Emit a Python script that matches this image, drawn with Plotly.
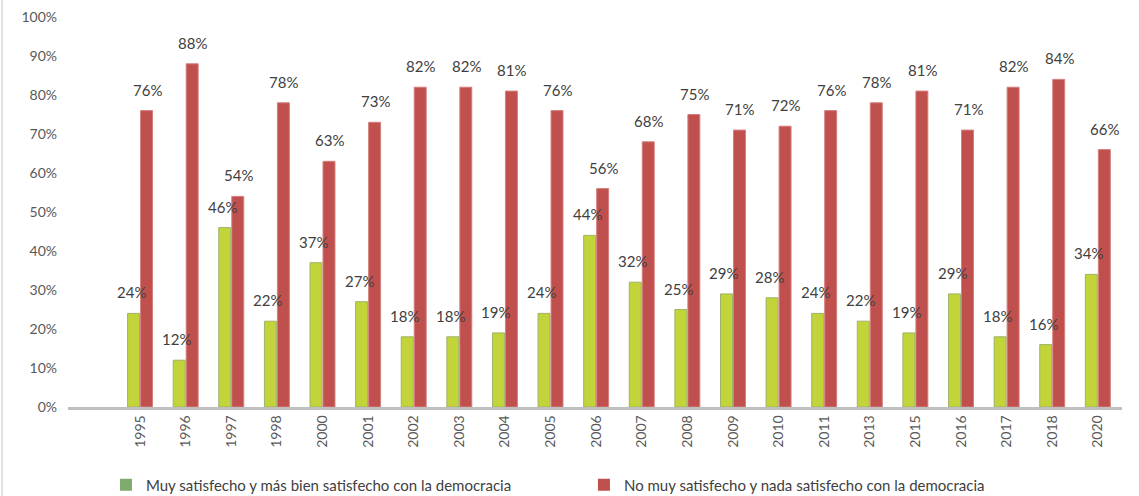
import plotly.graph_objects as go

years = ["1995", "1996", "1997", "1998", "2000", "2001", "2002", "2003", "2004", "2005", "2006",
         "2007", "2008", "2009", "2010", "2011", "2013", "2015", "2016", "2017", "2018", "2020"]
satisfechos = [24, 12, 46, 22, 37, 27, 18, 18, 19, 24, 44, 32, 25, 29, 28, 24, 22, 19, 29, 18, 16, 34]
no_satisfechos = [76, 88, 54, 78, 63, 73, 82, 82, 81, 76, 56, 68, 75, 71, 72, 76, 78, 81, 71, 82, 84, 66]

nom_verde = "Muy satisfecho y más bien satisfecho con la democracia"
nom_rojo = "No muy satisfecho y nada satisfecho con la democracia"

police = "Lato, 'Liberation Sans', sans-serif"
gris_txt = "#404040"

fig = go.Figure()
fig.add_trace(go.Bar(x=years, y=[v / 100 for v in satisfechos],
                     marker=dict(color="#C2D43A", line=dict(color="#9DB36A", width=1)),
                     showlegend=False, name=nom_verde))
fig.add_trace(go.Bar(x=years, y=[v / 100 for v in no_satisfechos],
                     marker=dict(color="#C0504D", line=dict(color="#D47F7C", width=1)),
                     showlegend=False, name=nom_rojo))

# traces vides juste pour la légende (couleurs du carré différentes)
fig.add_trace(go.Scatter(x=[None], y=[None], mode="markers", name=nom_verde,
                         marker=dict(symbol="square", size=11, color="#7FAA6E")))
fig.add_trace(go.Scatter(x=[None], y=[None], mode="markers", name=nom_rojo,
                         marker=dict(symbol="square", size=11, color="#C0504D")))

# étiquettes en annotations pour qu'elles passent au-dessus des barres
# (x = indice de catégorie, sinon "1995" est lu comme un nombre)
for serie, dx in [(satisfechos, -9), (no_satisfechos, 7)]:
    for i, v in enumerate(serie):
        fig.add_annotation(x=i, y=v / 100, text=f"{v}%", showarrow=False,
                           xshift=dx, yshift=10, yanchor="bottom",
                           font=dict(size=15, color=gris_txt, family=police))

fig.update_layout(
    width=1139, height=496,
    margin=dict(l=68, r=17, t=17, b=89, autoexpand=False),
    paper_bgcolor="white", plot_bgcolor="white",
    font=dict(family=police, color="#595959", size=13),
    barmode="group", bargap=0.43, bargroupgap=0.08,
    showlegend=True,
    legend=dict(orientation="h", x=0.036, y=-0.2, xanchor="left", yanchor="middle",
                entrywidth=433, entrywidthmode="pixels", itemsizing="constant",
                font=dict(size=15, color=gris_txt, family=police)),
)
fig.update_xaxes(type="category", range=[-1.58, 21.53], tickangle=-90,
                 showline=True, linecolor="#BFBFBF", linewidth=2.5, ticks="",
                 tickfont=dict(size=14, color="#595959"), showgrid=False, fixedrange=True)
fig.update_yaxes(range=[0, 1], tickvals=[i / 10 for i in range(11)], tickformat=".0%",
                 showgrid=False, zeroline=False, showline=False, ticks="", ticklabelstandoff=10,
                 tickfont=dict(size=14, color="#595959"), fixedrange=True)

# bordure gauche du graphique
fig.add_shape(type="line", xref="paper", yref="paper", x0=-66 / 1054, x1=-66 / 1054,
              y0=-89 / 390, y1=1 + 17 / 390, line=dict(color="#D9D9D9", width=1.5))

# pas de marge du body pour que la figure colle au coin de la page
fig.write_html("out.html", config={"displayModeBar": False},
               post_script="document.body.style.margin='0';document.body.style.overflow='hidden';")
